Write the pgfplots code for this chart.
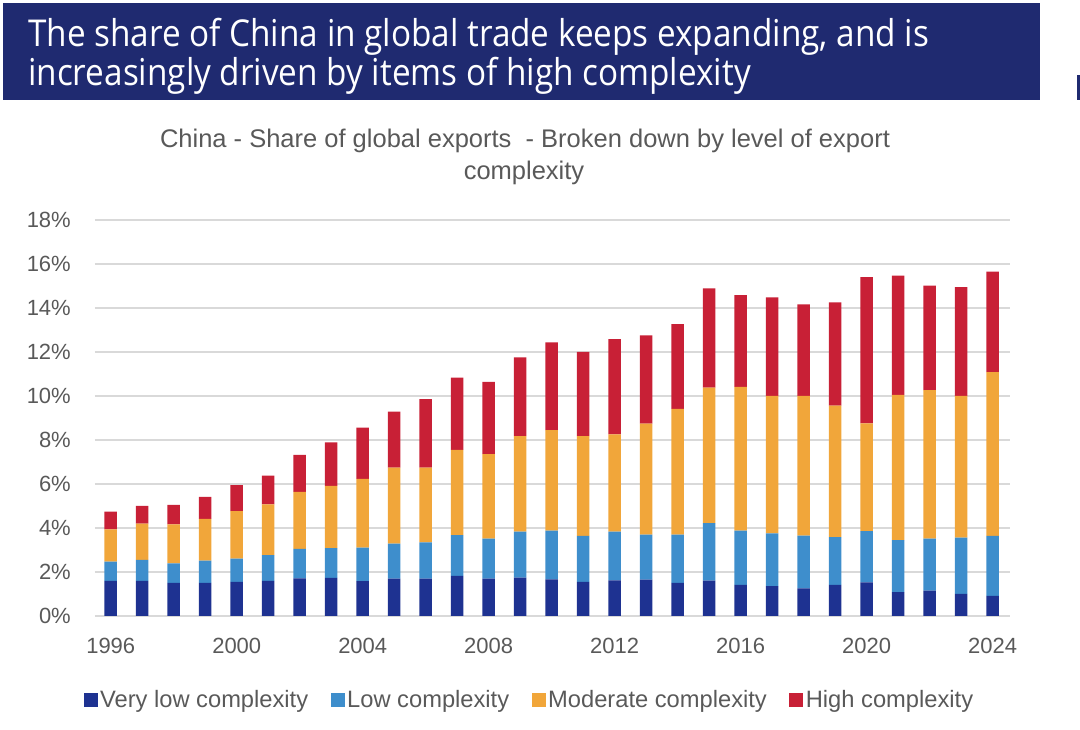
\documentclass[border=0pt]{standalone}
\usepackage{fontspec}
\setmainfont{Liberation Sans}
\newfontfamily\titlefont[FakeStretch=0.9]{Open Sans}
\usepackage{pgfplots}
\pgfplotsset{compat=1.18}
\definecolor{navy}{RGB}{31,42,112}
\definecolor{vlow}{RGB}{30,50,145}
\definecolor{low}{RGB}{62,142,204}
\definecolor{moder}{RGB}{241,166,58}
\definecolor{high}{RGB}{200,32,54}
\definecolor{txtgray}{RGB}{89,89,89}
\definecolor{gridgray}{RGB}{217,217,217}
\begin{document}
\begin{tikzpicture}
\path[use as bounding box] (0pt,0pt) rectangle (1080pt,730pt);
\fill[navy] (3pt,630pt) rectangle (1040pt,727pt);
\fill[navy] (1077pt,630pt) rectangle (1080pt,655pt);
\node[anchor=base west,inner sep=0pt,text=white,font=\titlefont\fontsize{37}{42}\selectfont] at (28pt,683pt) {The share of China in global trade keeps expanding, and is};
\node[anchor=base west,inner sep=0pt,text=white,font=\titlefont\fontsize{37}{42}\selectfont] at (28pt,644pt) {increasingly driven by items of high complexity};
\node[anchor=base,inner sep=0pt,text=txtgray,font=\fontsize{25.5}{30}\selectfont] at (525pt,582pt) {China - Share of global exports\ \ - Broken down by level of export};
\node[anchor=base,inner sep=0pt,text=txtgray,font=\fontsize{25.5}{30}\selectfont] at (524pt,550pt) {complexity};
\begin{axis}[
  at={(95pt,114pt)}, anchor=south west,
  width=915pt, height=396pt, scale only axis,
  ybar stacked, bar width=12.5pt,
  xmin=1995.5, xmax=2024.55,
  ymin=0, ymax=18,
  xtick={1996,2000,...,2024},
  ytick={0,2,...,18},
  xticklabel style={/pgf/number format/1000 sep={}, inner sep=0pt, anchor=north, yshift=-22pt},
  yticklabel={\pgfmathprintnumber{\tick}\%},
  yticklabel style={inner sep=0pt, anchor=east, xshift=-24pt},
  /pgf/number format/assume math mode=true,
  ticklabel style={font=\fontsize{22}{26}\selectfont, text=txtgray},
  major tick length=0pt,
  axis line style={draw=none},
  ymajorgrids, grid style={gridgray, line width=1.2pt},
  legend columns=4,
  legend style={at={(0.475,-0.211)}, anchor=center, draw=none, fill=none,
    font=\fontsize{23.7}{28}\selectfont, text=txtgray,
    nodes={inner xsep=2.5pt, inner ysep=1pt},
    /tikz/every even column/.append style={column sep=20pt}},
  legend cell align=left,
  legend image code/.code={\fill[#1] (0pt,-7pt) rectangle (14pt,7pt);},
]
\addplot+[draw=none, fill=vlow] coordinates {
(1996,1.60) (1997,1.60) (1998,1.51) (1999,1.51) (2000,1.55) (2001,1.60) (2002,1.71) (2003,1.73) (2004,1.58) (2005,1.70)
(2006,1.70) (2007,1.82) (2008,1.70) (2009,1.74) (2010,1.67) (2011,1.55) (2012,1.62) (2013,1.65) (2014,1.51) (2015,1.61)
(2016,1.41) (2017,1.36) (2018,1.26) (2019,1.42) (2020,1.53) (2021,1.08) (2022,1.15) (2023,1.00) (2024,0.91)};
\addplot+[draw=none, fill=low] coordinates {
(1996,0.87) (1997,0.95) (1998,0.88) (1999,1.01) (2000,1.06) (2001,1.17) (2002,1.34) (2003,1.35) (2004,1.53) (2005,1.59)
(2006,1.65) (2007,1.86) (2008,1.82) (2009,2.09) (2010,2.21) (2011,2.09) (2012,2.21) (2013,2.05) (2014,2.19) (2015,2.61)
(2016,2.47) (2017,2.40) (2018,2.39) (2019,2.16) (2020,2.33) (2021,2.37) (2022,2.37) (2023,2.56) (2024,2.73)};
\addplot+[draw=none, fill=moder] coordinates {
(1996,1.47) (1997,1.65) (1998,1.78) (1999,1.89) (2000,2.16) (2001,2.30) (2002,2.59) (2003,2.83) (2004,3.12) (2005,3.45)
(2006,3.39) (2007,3.87) (2008,3.84) (2009,4.35) (2010,4.57) (2011,4.54) (2012,4.43) (2013,5.04) (2014,5.72) (2015,6.16)
(2016,6.54) (2017,6.24) (2018,6.35) (2019,5.98) (2020,4.90) (2021,6.60) (2022,6.75) (2023,6.44) (2024,7.45)};
\addplot+[draw=none, fill=high] coordinates {
(1996,0.80) (1997,0.81) (1998,0.88) (1999,1.01) (2000,1.18) (2001,1.31) (2002,1.68) (2003,1.98) (2004,2.33) (2005,2.55)
(2006,3.12) (2007,3.28) (2008,3.28) (2009,3.58) (2010,3.99) (2011,3.82) (2012,4.32) (2013,4.02) (2014,3.85) (2015,4.51)
(2016,4.17) (2017,4.48) (2018,4.17) (2019,4.70) (2020,6.64) (2021,5.42) (2022,4.75) (2023,4.95) (2024,4.56)};
\legend{Very low complexity, Low complexity, Moderate complexity, High complexity}
\end{axis}
\end{tikzpicture}
\end{document}
